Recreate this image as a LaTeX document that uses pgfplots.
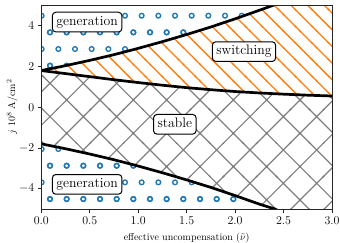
\documentclass[border=0pt]{standalone}
\usepackage{pgfplots}
\pgfplotsset{compat=1.18}
\usetikzlibrary{patterns.meta}
\definecolor{tabblue}{HTML}{1F77B4}
\definecolor{taborange}{HTML}{FF7F0E}
\definecolor{hatchgray}{HTML}{808080}

\tikzdeclarepattern{
  name=circlesHatch,
  type=uncolored,
  bounding box={(-4bp,-4bp) and (20.667bp,37.333bp)},
  tile size={(16.667bp,33.333bp)},
  code={
    \pgfsetlinewidth{1.35bp}
    \pgfpathcircle{\pgfpoint{0bp}{10.63bp}}{2.35bp}
    \pgfpathcircle{\pgfpoint{16.667bp}{10.63bp}}{2.35bp}
    \pgfpathcircle{\pgfpoint{8.333bp}{27.3bp}}{2.35bp}
    \pgfusepath{stroke}
  }
}
\tikzdeclarepattern{
  name=backHatch,
  type=uncolored,
  bounding box={(-1bp,-1bp) and (17.667bp,17.667bp)},
  tile size={(16.667bp,16.667bp)},
  code={
    \pgfsetlinewidth{1.3bp}
    \pgfpathmoveto{\pgfpoint{-1bp}{13bp}}
    \pgfpathlineto{\pgfpoint{13bp}{-1bp}}
    \pgfpathmoveto{\pgfpoint{11bp}{17.667bp}}
    \pgfpathlineto{\pgfpoint{17.667bp}{11bp}}
    \pgfusepath{stroke}
  }
}
\tikzdeclarepattern{
  name=crossHatch,
  type=uncolored,
  bounding box={(-1bp,-1bp) and (34.333bp,34.333bp)},
  tile size={(33.333bp,33.333bp)},
  code={
    \pgfsetlinewidth{1.2bp}
    \pgfpathmoveto{\pgfpoint{-1bp}{8.7bp}}
    \pgfpathlineto{\pgfpoint{24.633bp}{34.333bp}}
    \pgfpathmoveto{\pgfpoint{22.63bp}{-1bp}}
    \pgfpathlineto{\pgfpoint{34.333bp}{10.7bp}}
    \pgfpathmoveto{\pgfpoint{-1bp}{10.7bp}}
    \pgfpathlineto{\pgfpoint{10.7bp}{-1bp}}
    \pgfpathmoveto{\pgfpoint{8.7bp}{34.333bp}}
    \pgfpathlineto{\pgfpoint{34.333bp}{8.7bp}}
    \pgfusepath{stroke}
  }
}

\begin{document}
\begin{tikzpicture}
\begin{axis}[
  at={(41.3bp,34bp)}, anchor=south west,
  scale only axis, width=290.7bp, height=203.6bp,
  xmin=0, xmax=3, ymin=-5, ymax=5,
  xtick={0,0.5,1,1.5,2,2.5,3},
  ytick={-4,-2,0,2,4},
  x tick label style={yshift=-1bp, /pgf/number format/.cd, fixed, fixed zerofill, precision=1},
  tick pos=left, tick align=outside, major tick length=3.5bp,
  axis line style={black!85, line width=0.8bp},
  tick style={black!85, line width=0.8bp},
  tick label style={font=\fontsize{11.5bp}{13bp}\selectfont},
  label style={font=\fontsize{10.8bp}{12bp}\selectfont},
  xlabel={effective uncompensation ($\tilde{\nu}$)},
  ylabel={$j\ 10^8\ \mathrm{A/cm^2}$},
  every axis x label/.style={at={(axis description cs:0.5,-0.143)}, anchor=center},
  every axis y label/.style={at={(axis description cs:-0.0998,0.5)}, rotate=90, anchor=center},
  axis on top,
  clip=true,
]
% generation (top)
\addplot[draw=none, pattern=circlesHatch, pattern color=tabblue, forget plot] coordinates {
  (0,1.80) (0.25,2.04) (0.5,2.30) (0.75,2.58) (1.0,2.89) (1.25,3.22) (1.5,3.57) (1.75,3.94) (2.0,4.34) (2.25,4.76) (2.39,5.0) (0,5)
};
% switching
\addplot[draw=none, pattern=backHatch, pattern color=taborange, forget plot] coordinates {
  (0,1.80) (0.25,2.04) (0.5,2.30) (0.75,2.58) (1.0,2.89) (1.25,3.22) (1.5,3.57) (1.75,3.94) (2.0,4.34) (2.25,4.76) (2.39,5.0) (3,5)
  (3.0,0.55) (2.75,0.59) (2.5,0.64) (2.25,0.70) (2.0,0.77) (1.75,0.86) (1.5,0.96) (1.25,1.08) (1.0,1.21) (0.75,1.35) (0.5,1.50) (0.25,1.65) (0,1.80)
};
% stable
\addplot[draw=none, pattern=crossHatch, pattern color=hatchgray, forget plot] coordinates {
  (0,1.80) (0.25,1.65) (0.5,1.50) (0.75,1.35) (1.0,1.21) (1.25,1.08) (1.5,0.96) (1.75,0.86) (2.0,0.77) (2.25,0.70) (2.5,0.64) (2.75,0.59) (3.0,0.55)
  (3,-5) (2.41,-5.0) (2.25,-4.76) (2.0,-4.34) (1.75,-3.94) (1.5,-3.57) (1.25,-3.22) (1.0,-2.89) (0.75,-2.58) (0.5,-2.30) (0.25,-2.04) (0,-1.80)
};
% generation (bottom)
\addplot[draw=none, pattern=circlesHatch, pattern color=tabblue, forget plot] coordinates {
  (0,-1.80) (0.25,-2.04) (0.5,-2.30) (0.75,-2.58) (1.0,-2.89) (1.25,-3.22) (1.5,-3.57) (1.75,-3.94) (2.0,-4.34) (2.25,-4.76) (2.41,-5.0) (0,-5)
};
% boundaries
\addplot[black, line width=2.7bp, no markers] coordinates {
  (0,1.80) (0.25,2.04) (0.5,2.30) (0.75,2.58) (1.0,2.89) (1.25,3.22) (1.5,3.57) (1.75,3.94) (2.0,4.34) (2.25,4.76) (2.39,5.0) (2.5,5.2)
};
\addplot[black, line width=2.7bp, no markers] coordinates {
  (0,1.80) (0.25,1.65) (0.5,1.50) (0.75,1.35) (1.0,1.21) (1.25,1.08) (1.5,0.96) (1.75,0.86) (2.0,0.77) (2.25,0.70) (2.5,0.64) (2.75,0.59) (3.0,0.55)
};
\addplot[black, line width=2.7bp, no markers] coordinates {
  (0,-1.80) (0.25,-2.04) (0.5,-2.30) (0.75,-2.58) (1.0,-2.89) (1.25,-3.22) (1.5,-3.57) (1.75,-3.94) (2.0,-4.34) (2.25,-4.76) (2.41,-5.0) (2.5,-5.2)
};
\tikzset{lbl/.style={draw=black, line width=1bp, fill=white, rounded corners=3.5bp, inner xsep=4bp, inner ysep=4bp, text height=9bp, text depth=2.7bp, font=\fontsize{13.8bp}{16bp}\selectfont}}
\node[lbl] at (axis cs:0.473,4.18) {generation};
\node[lbl] at (axis cs:2.092,2.73) {switching};
\node[lbl] at (axis cs:1.378,-0.84) {stable};
\node[lbl] at (axis cs:0.473,-3.79) {generation};
\end{axis}
\pgfresetboundingbox
\path[use as bounding box] (0bp,0bp) rectangle (340bp,243bp);
\end{tikzpicture}
\end{document}
